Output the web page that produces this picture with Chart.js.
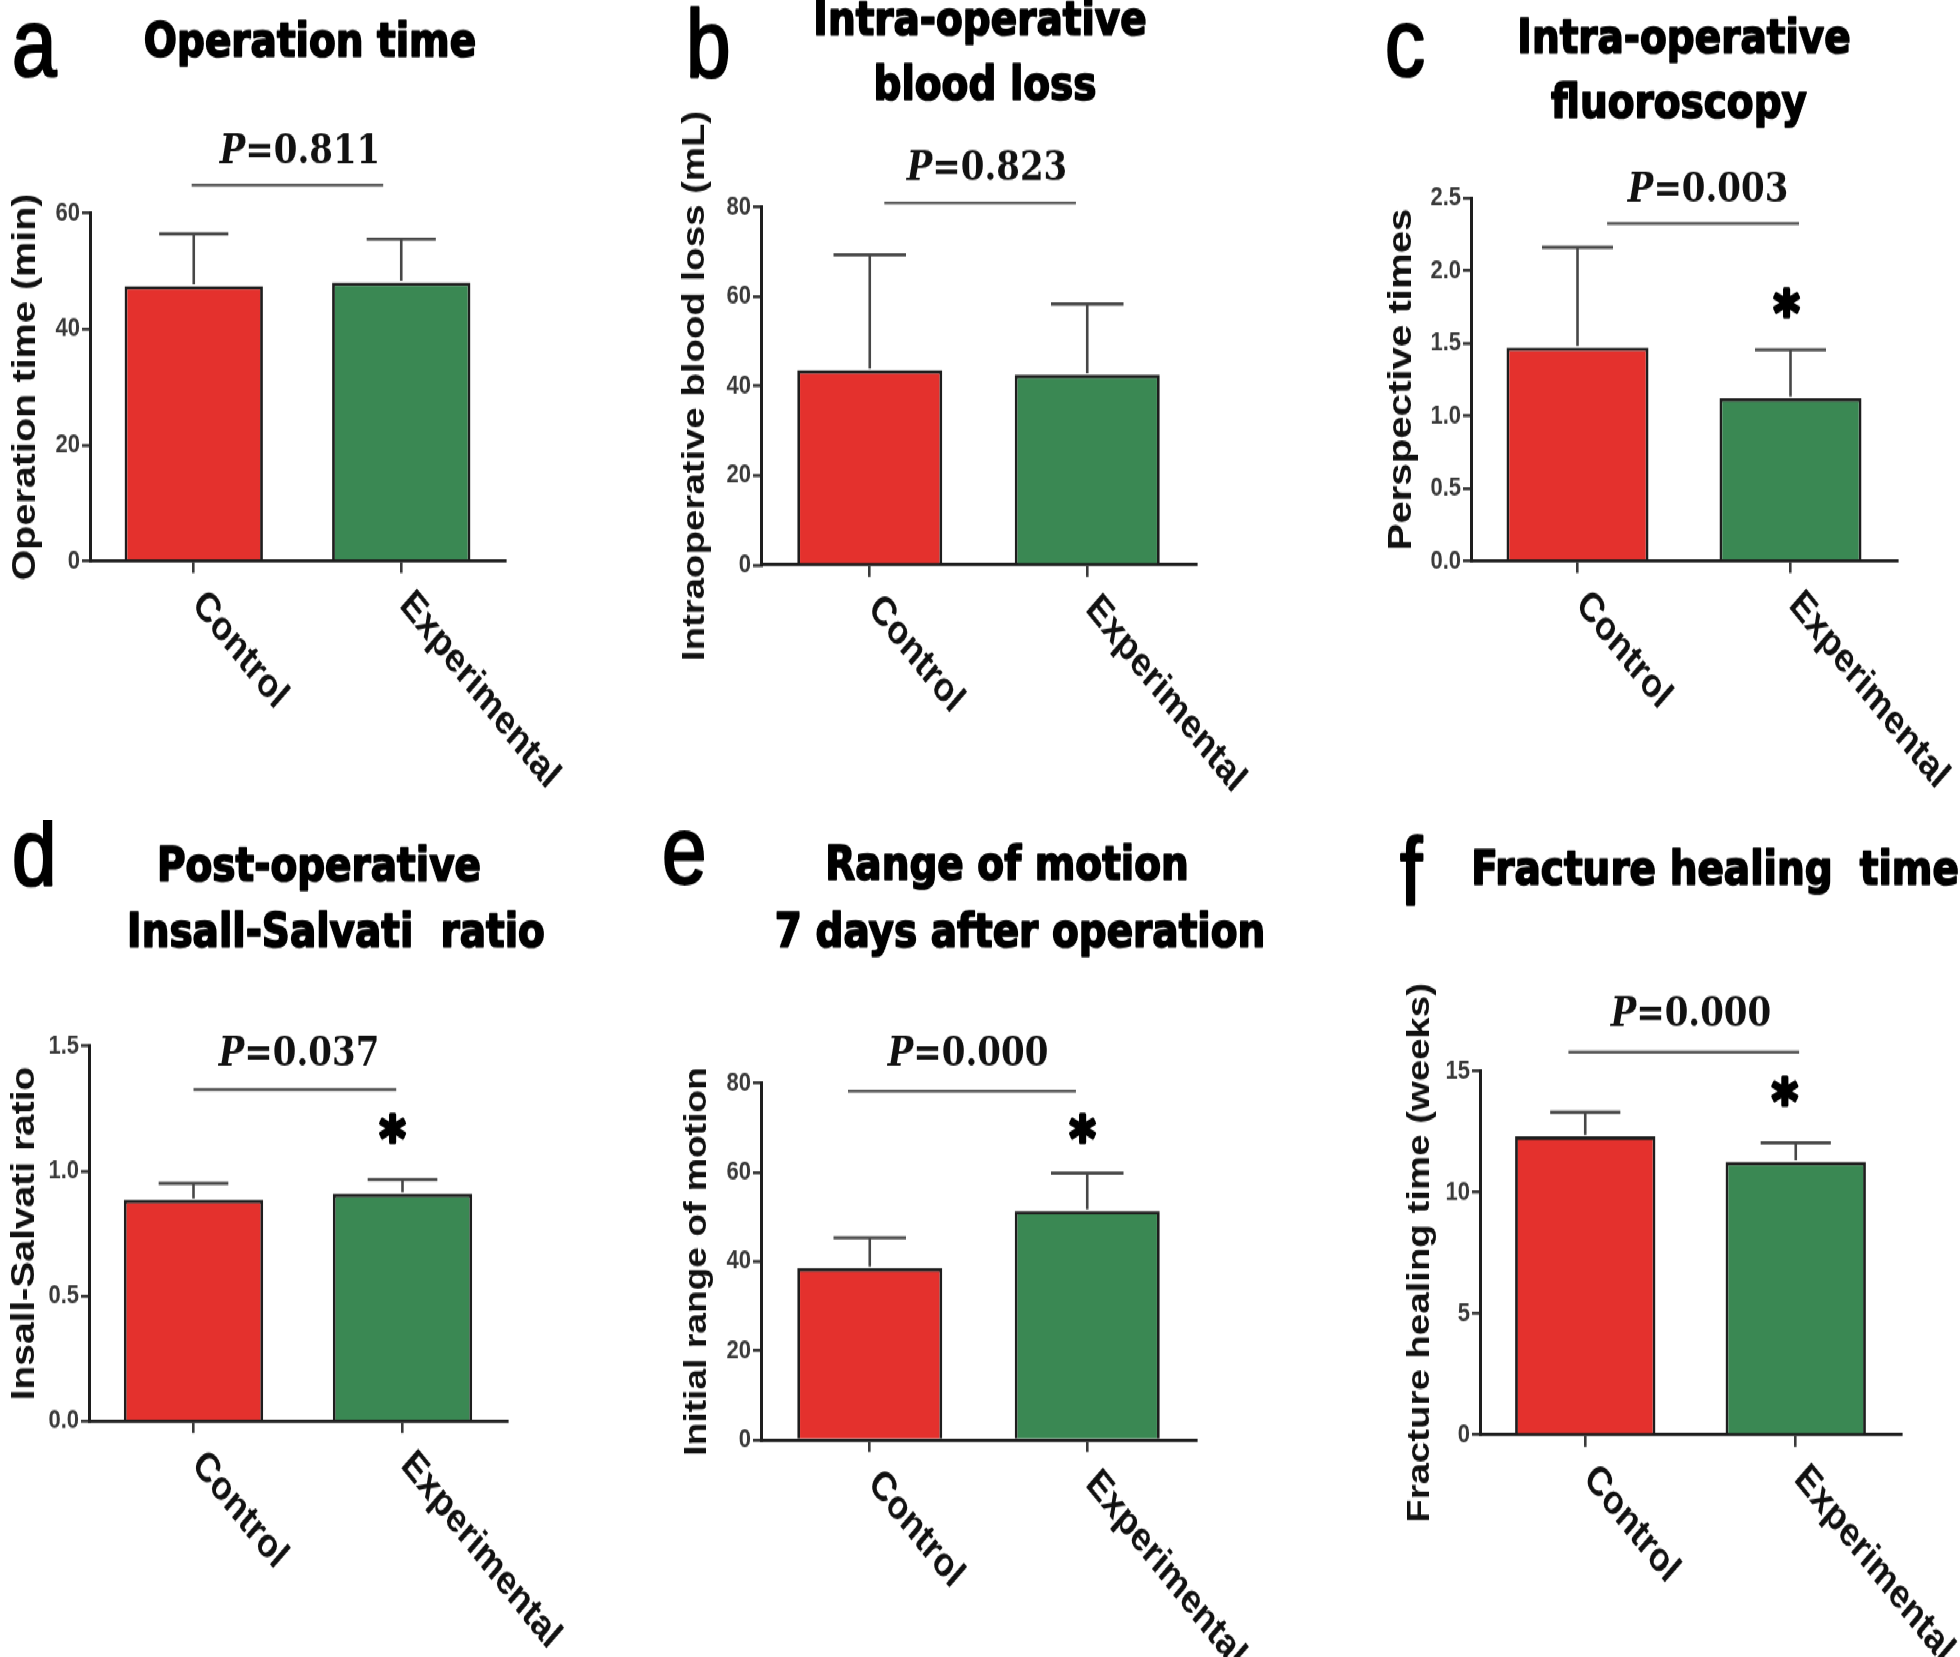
<!DOCTYPE html>
<html><head><meta charset="utf-8">
<script src="https://cdn.jsdelivr.net/npm/chart.js@4.4.1/dist/chart.umd.min.js"></script>
<style>
html,body{margin:0;padding:0;background:#fff;}
body{width:1960px;height:1657px;overflow:hidden;position:relative;}
#fig{position:absolute;left:0;top:0;width:1960px;height:1381px;transform:scaleY(1.2);transform-origin:0 0;}
#fig canvas{position:absolute;}
</style></head>
<body><div id="fig"></div>
<script>
// ---------- data ----------
const categories = ['Control', 'Experimental'];
const panelLetters = ['a', 'b', 'c', 'd', 'e', 'f'];
const panelTitles = [
  ['Operation time'],
  ['Intra-operative', 'blood loss'],
  ['Intra-operative', 'fluoroscopy'],
  ['Post-operative', 'Insall-Salvati  ratio'],
  ['Range of motion', '7 days after operation'],
  ['Fracture healing  time']
];
const yTitles = ['Operation time (min)', 'Intraoperative blood loss (mL)', 'Perspective times',
  'Insall-Salvati ratio', 'Initial range of motion', 'Fracture healing time (weeks)'];
const yMax = [60, 80, 2.5, 1.5, 80, 15];
const yStep = [20, 20, 0.5, 0.5, 20, 5];
const yDecimals = [0, 0, 1, 1, 0, 0];

const meanOperation = [47.4, 48.0];   const sdOperation = [9.0, 7.5];
const meanBloodLoss = [43.5, 42.5];   const sdBloodLoss = [25.8, 15.8];
const meanFluoro = [1.47, 1.12];      const sdFluoro = [0.69, 0.335];
const meanInsall = [0.884, 0.909];    const sdInsall = [0.067, 0.057];
const meanROM = [38.5, 51.3];         const sdROM = [6.8, 8.5];
const meanHealing = [12.3, 11.25];    const sdHealing = [1.0, 0.79];

const pValues = ['0.811', '0.823', '0.003', '0.037', '0.000', '0.000'];
// comparison bracket: height (y units) and span (category index units)
const bracketY = [64.8, 80.9, 2.325, 1.326, 78.2, 15.78];
const bracketFrom = [-0.01, 0.067, 0.139, 0.0, -0.10, -0.08];
const bracketTo = [0.913, 0.948, 1.04, 0.97, 0.948, 1.016];
const pLabelX = [0.512, 0.539, 0.613, 0.505, 0.452, 0.502];
const pLabelY = [68.6, 86.0, 2.479, 1.424, 84.0, 16.85];
const starX = [null, null, 0.984, 0.955, 0.98, 0.95];
const starY = [null, null, 1.78, 1.172, 69.9, 14.2];

const means = [meanOperation, meanBloodLoss, meanFluoro, meanInsall, meanROM, meanHealing];
const sds = [sdOperation, sdBloodLoss, sdFluoro, sdInsall, sdROM, sdHealing];

// ---------- layout / style ----------
const RED = '#E4312D', GREEN = '#3A8853';
const SANS = '"Liberation Sans", Arial, sans-serif';
const X_AXIS_H = 12;
const layout = [
  {left:0,    top:0,   w:650, h:683, L:90,  R:505, T:177.5, B:467.5, yTitleX:26,  yTitleSize:33,   lx:12,  ly:62.5, tx:[310],      ty:[46.7]},
  {left:650,  top:0,   w:650, h:683, L:111, R:546, T:172.5, B:470.8, yTitleX:45,  yTitleSize:32,   lx:36,  ly:64,   tx:[330, 335], ty:[29, 83]},
  {left:1300, top:0,   w:660, h:683, L:171, R:597, T:165,   B:467.5, yTitleX:102, yTitleSize:33.5, lx:85,  ly:62.5, tx:[384, 379], ty:[43.7, 98]},
  {left:0,    top:683, w:650, h:698, L:89,  R:507, T:188.7, B:501.2, yTitleX:25,  yTitleSize:32.5, lx:12,  ly:55,   tx:[319, 336], ty:[51, 106]},
  {left:650,  top:683, w:650, h:698, L:111, R:546, T:219.5, B:517,   yTitleX:47,  yTitleSize:31,   lx:12,  ly:53.3, tx:[357, 370], ty:[50.3, 106]},
  {left:1300, top:683, w:660, h:698, L:180, R:601, T:209.5, B:512.8, yTitleX:120, yTitleSize:32,   lx:100, ly:71,   tx:[415],      ty:[53.7]}
];

const fig = document.getElementById('fig');

function heavyText(ctx, text, x, y, w) {
  ctx.lineWidth = w; ctx.lineJoin = 'round'; ctx.strokeStyle = ctx.fillStyle;
  ctx.strokeText(text, x, y); ctx.fillText(text, x, y);
}

function build(idx) {
  const lay = layout[idx];
  const mean = means[idx], sd = sds[idx];
  const canvas = document.createElement('canvas');
  canvas.width = lay.w; canvas.height = lay.h;
  canvas.style.left = lay.left + 'px'; canvas.style.top = lay.top + 'px';
  canvas.style.width = lay.w + 'px'; canvas.style.height = lay.h + 'px';
  fig.appendChild(canvas);

  const decor = {
    id: 'decor' + idx,
    afterDatasetsDraw(chart) {
      const ctx = chart.ctx, ys = chart.scales.y;
      const meta = chart.getDatasetMeta(0);
      ctx.save();
      ctx.strokeStyle = '#474747'; ctx.lineWidth = 2.6;
      meta.data.forEach((bar, i) => {
        const yTop = ys.getPixelForValue(mean[i]);
        const yErr = ys.getPixelForValue(mean[i] + sd[i]);
        const half = bar.width / 4;
        ctx.beginPath();
        ctx.moveTo(bar.x, yTop - 1.4); ctx.lineTo(bar.x, yErr);
        ctx.moveTo(bar.x - half, yErr); ctx.lineTo(bar.x + half, yErr);
        ctx.stroke();
      });
      ctx.restore();
    },
    afterDraw(chart) {
      const ctx = chart.ctx, xs = chart.scales.x, ys = chart.scales.y, area = chart.chartArea;
      ctx.save();
      // panel letter
      ctx.fillStyle = '#000'; ctx.textAlign = 'left'; ctx.textBaseline = 'alphabetic';
      ctx.font = '80px ' + SANS;
      heavyText(ctx, panelLetters[idx], lay.lx, lay.ly, 2.2);
      // title
      ctx.font = 'bold 39px "DejaVu Sans", sans-serif'; ctx.textAlign = 'center';
      panelTitles[idx].forEach((t, k) => heavyText(ctx, t, lay.tx[k], lay.ty[k], 1.6));
      // category labels (rotated)
      ctx.font = 'bold 34px ' + SANS; ctx.textAlign = 'left'; ctx.textBaseline = 'middle'; ctx.fillStyle = '#111';
      categories.forEach((c, i) => {
        const px = xs.getPixelForValue(i);
        ctx.save(); ctx.translate(px + 4, area.bottom + 31); ctx.rotate(46 * Math.PI / 180);
        ctx.fillText(c, 0, 0); ctx.restore();
      });
      // comparison bracket
      const bx0 = xs.getPixelForValue(bracketFrom[idx]), bx1 = xs.getPixelForValue(bracketTo[idx]);
      const by = ys.getPixelForValue(bracketY[idx]);
      ctx.strokeStyle = '#595959'; ctx.lineWidth = 2.4;
      ctx.beginPath(); ctx.moveTo(bx0, by); ctx.lineTo(bx1, by); ctx.stroke();
      // P value
      const cx = xs.getPixelForValue(pLabelX[idx]), baseY = ys.getPixelForValue(pLabelY[idx]);
      const fP = 'italic bold 34px "DejaVu Serif", serif', fR = 'bold 34px "DejaVu Serif", serif';
      ctx.textBaseline = 'alphabetic'; ctx.fillStyle = '#111';
      ctx.font = fP; const w1 = ctx.measureText('P').width;
      const rest = '=' + pValues[idx];
      ctx.font = fR; const w2 = ctx.measureText(rest).width;
      const x0 = cx - (w1 + w2) / 2;
      ctx.font = fP; ctx.fillText('P', x0, baseY);
      ctx.font = fR; ctx.fillText(rest, x0 + w1, baseY);
      // significance star
      if (starX[idx] !== null) {
        ctx.font = 'bold 50px "DejaVu Sans", sans-serif'; ctx.fillStyle = '#000';
        const m = ctx.measureText('*');
        const sx = xs.getPixelForValue(starX[idx]), sy = ys.getPixelForValue(starY[idx]);
        heavyText(ctx, '*', sx - (m.actualBoundingBoxRight - m.actualBoundingBoxLeft) / 2,
          sy + (m.actualBoundingBoxAscent - m.actualBoundingBoxDescent) / 2, 3);
      }
      ctx.restore();
    }
  };

  new Chart(canvas, {
    type: 'bar',
    data: {
      labels: categories,
      datasets: [{
        data: mean,
        backgroundColor: [RED, GREEN],
        borderColor: '#1e1e1e', borderWidth: 2.8, borderSkipped: 'bottom',
        barPercentage: 2 / 3, categoryPercentage: 1
      }]
    },
    options: {
      responsive: false, animation: false, devicePixelRatio: 1, events: [],
      layout: { padding: { left: 0, top: lay.T, right: lay.w - lay.R, bottom: lay.h - lay.B - X_AXIS_H } },
      plugins: { legend: { display: false }, tooltip: { enabled: false }, title: { display: false } },
      scales: {
        x: {
          type: 'category', offset: true,
          grid: { display: true, drawOnChartArea: false, drawTicks: true, tickLength: 10, offset: false, color: '#3a3a3a', lineWidth: 2.6 },
          border: { display: true, color: '#1e1e1e', width: 2.8 },
          ticks: { display: false },
          afterFit(s) { s.height = X_AXIS_H; }
        },
        y: {
          min: 0, max: yMax[idx],
          ticks: { stepSize: yStep[idx], color: '#3a3a3a', padding: 2,
            font: { family: SANS, size: 22, weight: 'bold' },
            callback: v => Number(v).toFixed(yDecimals[idx]) },
          grid: { display: true, drawOnChartArea: false, drawTicks: true, tickLength: 8, color: '#3a3a3a', lineWidth: 2.6 },
          border: { display: true, color: '#1e1e1e', width: 3 },
          title: { display: true, text: yTitles[idx], color: '#111',
            font: { family: SANS, size: lay.yTitleSize, weight: 'bold', lineHeight: 1.2 },
            padding: { top: lay.yTitleX - lay.yTitleSize * 0.6, bottom: 0 } },
          afterFit(s) { s.width = lay.L; }
        }
      }
    },
    plugins: [decor]
  });
}

for (let i = 0; i < 6; i++) build(i);
</script>
</body></html>
